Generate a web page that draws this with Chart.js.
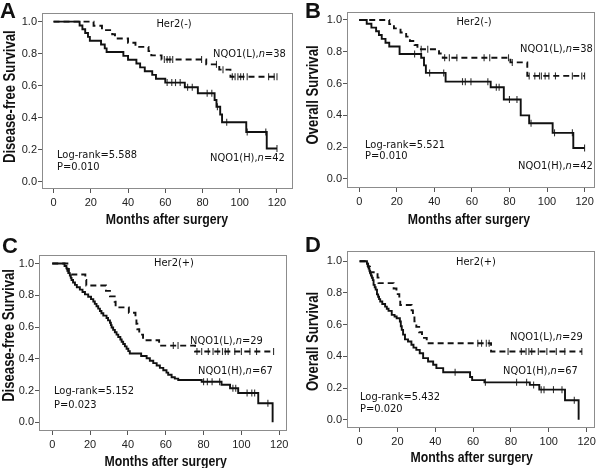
<!DOCTYPE html>
<html>
<head>
<meta charset="utf-8">
<script src="https://cdn.jsdelivr.net/npm/chart.js@4.4.1/dist/chart.umd.min.js"></script>
<style>
html, body { margin: 0; padding: 0; background: #fff; }
#wrap { position: relative; width: 600px; height: 468px; }
#wrap canvas { position: absolute; }
</style>
</head>
<body>
<div id="wrap">
  <canvas id="cA" width="300" height="234" style="left:0;top:0"></canvas>
  <canvas id="cB" width="300" height="234" style="left:300px;top:0"></canvas>
  <canvas id="cC" width="300" height="234" style="left:0;top:234px"></canvas>
  <canvas id="cD" width="300" height="234" style="left:300px;top:234px"></canvas>
</div>
<script>
// tick labels
const monthTicks = [0, 20, 40, 60, 80, 100, 120];
const survTicks = [0, 0.2, 0.4, 0.6, 0.8, 1.0];

// A : Her2(-) disease-free survival, [month, survival]
const aHigh = [[0,1],[14,0.976],[15.5,0.952],[17,0.929],[18.5,0.905],[19.5,0.881],[25.5,0.857],[27.5,0.833],[28.5,0.81],[37.5,0.786],[40,0.762],[44.5,0.738],[46.5,0.714],[49,0.69],[53,0.667],[55,0.643],[60,0.619],[70.5,0.59],[77.5,0.552],[86.5,0.51],[87.5,0.468],[89.5,0.42],[90.5,0.371],[103.5,0.31],[114.5,0.207],[120,0.207]];
const aHighCens = [61,63.5,65.5,68,72,74.5,82.5,85,88,93,104,114,120];
const aLow = [[0,1],[21.5,0.974],[26,0.947],[31.5,0.921],[33,0.895],[40,0.868],[44,0.842],[51,0.816],[52.5,0.789],[58,0.763],[82,0.733],[89,0.70],[95,0.656],[120,0.656]];
const aLowCens = [59.5,61,62.5,64,79.5,87.5,91,96,97.5,99,100.5,102,104,115.5,118.5,120];

// B : Her2(-) overall survival
const bHigh = [[0,1],[4,0.976],[6.5,0.952],[9,0.929],[10.5,0.905],[12,0.881],[14,0.857],[16,0.833],[21.5,0.786],[33,0.762],[34.5,0.714],[35.5,0.667],[46,0.612],[70,0.577],[77,0.5],[86,0.4],[90.5,0.35],[103,0.29],[114,0.195],[120,0.195]];
const bHighCens = [29.5,37.5,45,55,56.5,59.5,68.5,73,74.5,80,84,91.5,104,113.5,120];
const bLow = [[0,1],[16,0.974],[18.5,0.947],[22,0.921],[25,0.895],[27,0.868],[29.5,0.842],[31,0.816],[42.5,0.789],[44.5,0.762],[80.5,0.733],[89.5,0.648],[120,0.648]];
const bLowCens = [33,36.5,45.5,48,52,66.5,69.5,79.5,81.5,90.5,93.5,96,97,99,101,104.5,113.5,118.5,120];

// C : Her2(+) disease-free survival
const cHigh = [[0,1],[6.5,0.985],[7.5,0.97],[8,0.955],[8.5,0.94],[9.3,0.925],[9.8,0.91],[10.2,0.896],[11,0.881],[12,0.866],[13,0.851],[14.6,0.836],[16,0.821],[17.3,0.806],[19,0.791],[20.5,0.776],[21.7,0.761],[22.5,0.746],[23.4,0.731],[24.3,0.716],[25.2,0.701],[26,0.687],[27,0.672],[28.7,0.657],[29.5,0.642],[30.5,0.627],[31,0.612],[31.4,0.597],[32.2,0.582],[33.1,0.567],[34,0.552],[34.9,0.537],[36,0.522],[36.7,0.507],[37.5,0.493],[38.4,0.478],[39.3,0.463],[40.2,0.448],[41,0.433],[47,0.418],[49.9,0.403],[51.6,0.388],[53.4,0.373],[55.2,0.358],[56.9,0.343],[58.7,0.328],[60.4,0.313],[61.3,0.299],[63.1,0.284],[64.8,0.275],[66.6,0.266],[79,0.255],[89.5,0.236],[94,0.214],[98.3,0.184],[108.9,0.12],[116.5,0]];
const cHighCens = [80,82,84.5,88.5,95.5,97,103,105.5,107,114];
const cLow = [[0,1],[8,0.966],[8.8,0.931],[17.5,0.897],[18,0.862],[28.4,0.828],[30.5,0.793],[33,0.759],[33.5,0.724],[40.5,0.69],[44,0.655],[44.5,0.621],[45,0.586],[46,0.552],[48,0.517],[56.5,0.483],[75.5,0.446],[117,0.446]];
const cLowCens = [64,66.5,76.5,79,82.5,85,87.5,90,91.5,93,96.5,100,104.5,108,117];

// D : Her2(+) overall survival
const dHigh = [[0,1],[3.9,0.985],[4.3,0.97],[4.8,0.955],[5.2,0.94],[5.6,0.925],[6,0.91],[6.5,0.896],[7,0.881],[7.4,0.851],[8,0.836],[8.5,0.821],[9.2,0.791],[9.8,0.776],[10.3,0.761],[10.9,0.746],[12,0.731],[13.5,0.714],[14.4,0.701],[15.3,0.687],[17,0.662],[18.5,0.652],[19.6,0.641],[21.3,0.62],[21.8,0.59],[22.3,0.567],[23,0.537],[24,0.507],[25.6,0.494],[27.4,0.473],[28.5,0.455],[30,0.441],[31.8,0.42],[33.6,0.389],[36.2,0.368],[38.9,0.347],[40.6,0.326],[44.2,0.30],[58.4,0.27],[59.5,0.25],[66,0.236],[90,0.22],[95,0.19],[108.6,0.123],[115.8,0]];
const dHighCens = [50.5,66.5,83,88.3,92,96,97.5,102.5,107,113.5];
const dLow = [[0,1],[4.5,0.966],[5.5,0.931],[9.5,0.897],[10,0.862],[18,0.828],[19.5,0.793],[21,0.759],[21.5,0.724],[27.5,0.69],[28.2,0.655],[29,0.621],[30,0.586],[31.5,0.552],[33,0.517],[35.5,0.483],[69.5,0.431],[117.5,0.431]];
const dLowCens = [62.5,64.5,67,68.5,78.5,85.5,88,89.5,91,94.5,99,104,108.5,117.5];

const plainFont = "'Liberation Sans', Arial, sans-serif";
const noteFont = "'DejaVu Sans', Verdana, sans-serif";
const xTitle = 'Months after surgery';

// layout of each panel: plot box [left, top, right, bottom], axis ranges, title spots
const panels = [
  { id: 'cA', letter: 'A', lx: 0, ly: 18, yTitle: 'Disease-free Survival', box: [42, 13, 293, 189], xr: [-6.2, 128.6], yr: [-0.046, 1.054],
    xt: [167, 224], yt: [15, 96.7],
    high: aHigh, highCens: aHighCens, low: aLow, lowCens: aLowCens,
    notes: [['Her2(-)', 174, 24, 'c'], ['NQO1(L),*n*=38', 213, 54], ['NQO1(H),*n*=42', 210, 158.5], ['Log-rank=5.588', 57, 155.5], ['P=0.010', 57, 167.5]] },
  { id: 'cB', letter: 'B', lx: 5, ly: 18, yTitle: 'Overall Survival', box: [47, 12, 296, 188], xr: [-6.5, 125.5], yr: [-0.057, 1.05],
    xt: [169, 224], yt: [18.3, 95],
    high: bHigh, highCens: bHighCens, low: bLow, lowCens: bLowCens,
    notes: [['Her2(-)', 174, 22.5, 'c'], ['NQO1(L),*n*=38', 220, 49.5], ['NQO1(H),*n*=42', 218, 166], ['Log-rank=5.521', 65, 145], ['P=0.010', 65, 156.5]] },
  { id: 'cC', letter: 'C', lx: 2, ly: 18.5, yTitle: 'Disease-free Survival', box: [39, 21, 287, 197], xr: [-7.0, 124.1], yr: [-0.055, 1.054],
    xt: [165.7, 231.5], yt: [14, 101.5],
    high: cHigh, highCens: cHighCens, low: cLow, lowCens: cLowCens,
    notes: [['Her2(+)', 174, 29, 'c'], ['NQO1(L),*n*=29', 190, 107], ['NQO1(H),*n*=67', 198, 136.7], ['Log-rank=5.152', 54, 157.5], ['P=0.023', 54, 171.3]] },
  { id: 'cD', letter: 'D', lx: 5, ly: 17.5, yTitle: 'Overall Survival', box: [47, 17, 295, 194], xr: [-6.65, 124.4], yr: [-0.052, 1.065],
    xt: [171.7, 228], yt: [18.3, 107.5],
    high: dHigh, highCens: dHighCens, low: dLow, lowCens: dLowCens,
    notes: [['Her2(+)', 176, 28, 'c'], ['NQO1(L),*n*=29', 210, 103], ['NQO1(H),*n*=67', 203, 136.7], ['Log-rank=5.432', 60, 163], ['P=0.020', 60, 175]] }
];

function survAt(curve, t) {
  let s = 1;
  curve.forEach((p) => { if (p[0] <= t) s = p[1]; });
  return s;
}

function stepSet(curve, dash) {
  return {
    data: curve.map((p) => ({x: p[0], y: p[1]})),
    stepped: true,
    borderColor: '#111',
    borderWidth: 1.9,
    borderDash: dash,
    pointRadius: 0,
    fill: false
  };
}

function censSet(curve, times) {
  return {
    data: times.map((t) => ({x: t, y: survAt(curve, t)})),
    showLine: false,
    pointStyle: 'line',
    rotation: 90,
    pointRadius: 3.5,
    pointBorderColor: '#333',
    pointBorderWidth: 1.1,
    borderColor: '#333'
  };
}

// squeezed text, the reference fonts are narrow
function drawNarrow(ctx, text, x, y, font, sx, rot, align) {
  ctx.save();
  ctx.translate(x, y);
  ctx.rotate(rot);
  ctx.scale(sx, 1);
  ctx.font = font;
  ctx.textAlign = align;
  ctx.fillText(text, 0, 0);
  ctx.restore();
}

// box, panel letter, axis titles and the text inside the plot
const panelDeco = {
  id: 'panelDeco',
  afterDraw(chart, args, p) {
    const ctx = chart.ctx, a = chart.chartArea;
    const sx = 0.9;
    ctx.save();
    ctx.strokeStyle = '#8c8c8c';
    ctx.lineWidth = 1;
    ctx.strokeRect(Math.round(a.left) + 0.5, Math.round(a.top) + 0.5, Math.round(a.right - a.left) - 1, Math.round(a.bottom - a.top) - 1);
    ctx.fillStyle = '#111';
    ctx.textBaseline = 'alphabetic';
    ctx.font = 'bold 22px ' + plainFont;
    ctx.fillText(p.letter, p.lx, p.ly);
    drawNarrow(ctx, xTitle, p.xt[0], p.xt[1], 'bold 15px ' + plainFont, 0.82, 0, 'center');
    drawNarrow(ctx, p.yTitle, p.yt[0], p.yt[1], 'bold 16px ' + plainFont, 0.82, -Math.PI / 2, 'center');
    ctx.textBaseline = 'middle';
    p.notes.forEach((n) => {
      let parts = n[0].split('*');
      let fonts = parts.map((s, i) => (i % 2 ? 'italic ' : '') + '11px ' + noteFont);
      let widths = parts.map((s, i) => {
        ctx.font = fonts[i];
        return ctx.measureText(s).width * sx;
      });
      let x = n[1];
      if (n[3] == 'c') x -= widths.reduce((acc, v) => acc + v, 0) / 2;
      parts.forEach((s, i) => {
        drawNarrow(ctx, s, x, n[2], fonts[i], sx, 0, 'left');
        x += widths[i];
      });
    });
    ctx.restore();
  }
};

function fnDrawPanel(p) {
  let ctx = document.getElementById(p.id);
  new Chart(ctx, {
    type: 'line',
    data: {
      datasets: [
        stepSet(p.high, []),
        stepSet(p.low, [6, 4]),
        censSet(p.high, p.highCens),
        censSet(p.low, p.lowCens)
      ]
    },
    options: {
      responsive: false,
      animation: false,
      layout: { padding: { left: 0, top: p.box[1], right: 300 - p.box[2], bottom: 0 } },
      plugins: { legend: { display: false }, tooltip: { enabled: false }, panelDeco: p },
      scales: {
        x: {
          type: 'linear', min: p.xr[0], max: p.xr[1],
          afterBuildTicks: (s) => { s.ticks = monthTicks.map((v) => ({value: v})); },
          afterFit: (s) => { s.height = 234 - p.box[3]; },
          ticks: { autoSkip: false, maxRotation: 0, padding: 3, color: '#222', font: { family: plainFont, size: 11 }, callback: (v) => String(v) },
          grid: { drawOnChartArea: false, tickLength: 4, color: '#555' },
          border: { display: false },
          title: { display: false }
        },
        y: {
          type: 'linear', min: p.yr[0], max: p.yr[1],
          afterBuildTicks: (s) => { s.ticks = survTicks.map((v) => ({value: v})); },
          afterFit: (s) => { s.width = p.box[0]; },
          ticks: { autoSkip: false, padding: 1, color: '#222', font: { family: plainFont, size: 11 }, callback: (v) => v.toFixed(1) },
          grid: { drawOnChartArea: false, tickLength: 4, color: '#555' },
          border: { display: false },
          title: { display: false }
        }
      }
    },
    plugins: [panelDeco]
  });
}

panels.forEach((p) => fnDrawPanel(p));
</script>
</body>
</html>
